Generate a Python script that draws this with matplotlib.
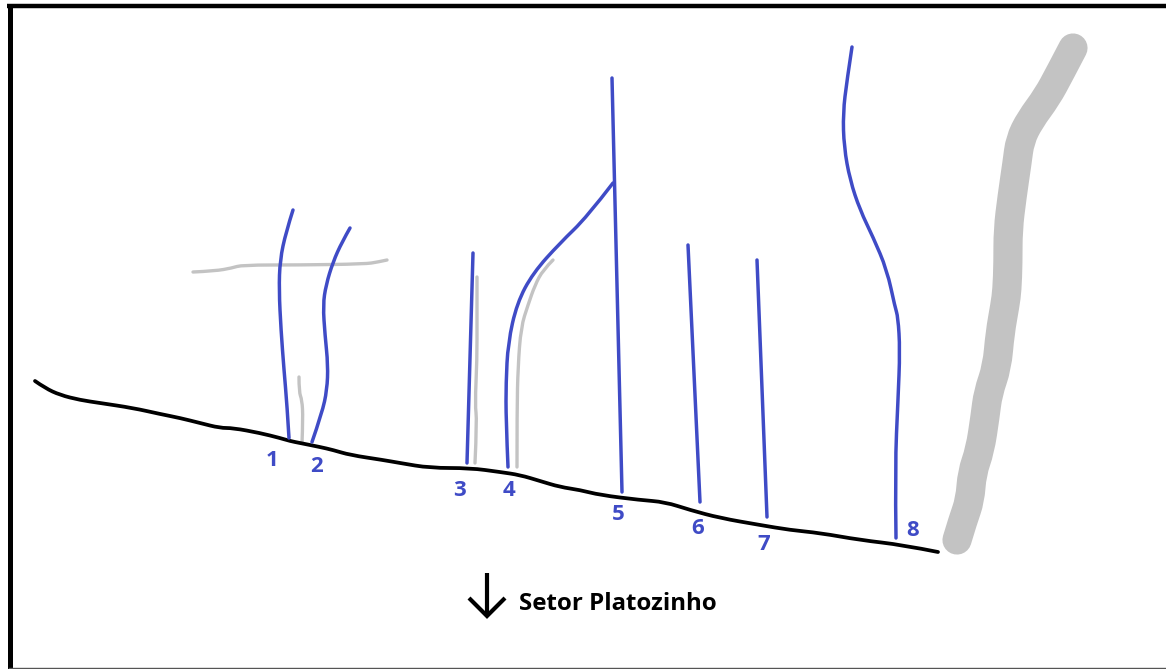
import matplotlib.pyplot as plt
from matplotlib.path import Path
from matplotlib.patches import PathPatch
import numpy as np

# sketch coordinates (pixels, y downward)
ground_x = [35, 45, 60, 80, 100, 133, 160, 180, 200, 220, 233, 260, 280, 290, 300, 320, 333, 350,
            383, 400, 430, 470, 500, 520, 540, 560, 580, 600, 640, 665, 690, 720, 760, 790, 820,
            860, 903, 938]
ground_y = [381, 388, 395, 400, 403, 408, 414, 418, 423, 428, 428, 433, 438, 441, 443, 447, 450, 455,
            460, 463, 468, 468, 472, 475, 481, 487, 490, 495, 500, 502, 510, 518, 525, 530, 533,
            540, 545, 552]

line1_x = [293, 286, 280, 279, 281, 284, 287, 289]
line1_y = [210, 232, 260, 290, 330, 370, 405, 438]
line2_x = [350, 342, 333, 326, 323, 325, 328, 327, 322, 312]
line2_y = [228, 242, 262, 285, 305, 335, 365, 390, 413, 442]
line3_x = [473, 467]
line3_y = [253, 463]
line4_x = [508, 506, 506, 508, 517, 533, 560, 587, 613]
line4_y = [467, 420, 383, 343, 303, 273, 243, 217, 183]
line5_x = [612, 622]
line5_y = [78, 492]
line6_x = [688, 700]
line6_y = [245, 502]
line7_x = [757, 767]
line7_y = [260, 517]
line8_x = [852, 847, 843, 844, 850, 860, 873, 887, 895, 898, 900, 898, 895, 896]
line8_y = [47, 80, 113, 147, 180, 210, 237, 270, 307, 317, 350, 400, 467, 538]

gray_h_x = [193, 215, 232, 242, 300, 365, 378, 387]
gray_h_y = [272, 271, 268, 265, 265, 264, 262, 260]
gray_a_x = [299, 299, 302, 303, 302]
gray_a_y = [377, 392, 400, 418, 443]
gray_b_x = [477, 477, 477, 475, 477, 475]
gray_b_y = [277, 320, 360, 405, 420, 463]
gray_c_x = [553, 543, 535, 528, 521, 518, 517, 517]
gray_c_y = [260, 270, 285, 305, 327, 367, 410, 467]

wall_x = [1073, 1060, 1047, 1030, 1020, 1017, 1012, 1008, 1008, 1007, 1005, 1000, 997, 988, 985,
          980, 972, 970, 963, 957]
wall_y = [48, 73, 97, 120, 140, 163, 197, 230, 263, 290, 305, 333, 367, 393, 417,
          450, 473, 500, 520, 540]

labels = ["1", "2", "3", "4", "5", "6", "7", "8"]
label_x = [272, 317, 459, 509, 618, 698, 764, 913]
label_y = [461, 467, 491, 491, 515, 529, 545, 531]

blue = '#3F4BC6'
gray = '#C3C3C3'


def stroke(ax, xs, ys, **kw):
    # smooth hand-drawn look: quadratic bezier segments through the midpoints
    pts = np.column_stack([xs, ys]).astype(float)
    if len(pts) < 3:
        ax.plot(xs, ys, solid_capstyle='round', **kw)
        return
    verts = [pts[0]]
    codes = [Path.MOVETO]
    for i in range(1, len(pts) - 1):
        mid = (pts[i] + pts[i + 1]) / 2 if i < len(pts) - 2 else pts[i + 1]
        verts += [pts[i], mid]
        codes += [Path.CURVE3, Path.CURVE3]
    patch = PathPatch(Path(verts, codes), facecolor='none', edgecolor=kw['color'],
                      lw=kw['lw'], capstyle='round', joinstyle='round')
    ax.add_patch(patch)


fig = plt.figure(figsize=(11.66, 6.69), dpi=100)
ax = fig.add_axes([0, 0, 1, 1])
ax.set_xlim(0, 1166)
ax.set_ylim(669, 0)
ax.axis('off')

# frame
ax.plot([9.5, 9.5], [6, 669], color='black', lw=3.6, solid_capstyle='butt', clip_on=False)
ax.plot([7, 1166], [6, 6], color='black', lw=3.2, solid_capstyle='butt', clip_on=False)
ax.plot([9, 1166], [667.5, 667.5], color='#555555', lw=1.0, clip_on=False)

stroke(ax, wall_x, wall_y, color=gray, lw=21)
for gx, gy in [(gray_h_x, gray_h_y), (gray_a_x, gray_a_y), (gray_b_x, gray_b_y), (gray_c_x, gray_c_y)]:
    stroke(ax, gx, gy, color=gray, lw=2.4)

stroke(ax, ground_x, ground_y, color='black', lw=2.7)

for lx, ly in [(line1_x, line1_y), (line2_x, line2_y), (line3_x, line3_y), (line4_x, line4_y),
               (line5_x, line5_y), (line6_x, line6_y), (line7_x, line7_y), (line8_x, line8_y)]:
    stroke(ax, lx, ly, color=blue, lw=2.5)

for t, x, y in zip(labels, label_x, label_y):
    ax.text(x, y, t, color=blue, fontsize=16, fontweight='bold', family='Open Sans',
            ha='center', va='center')

# arrow + sector name
ax.plot([487, 487], [573, 616], color='black', lw=3, solid_capstyle='butt')
ax.plot([469, 487, 505], [598, 616, 598], color='black', lw=3, solid_capstyle='butt',
        solid_joinstyle='miter')
ax.text(519, 604, "Setor Platozinho", color='black', fontsize=17.3, fontweight='bold',
        family='Open Sans', ha='left', va='center')

fig.savefig('out.png', dpi=100)
